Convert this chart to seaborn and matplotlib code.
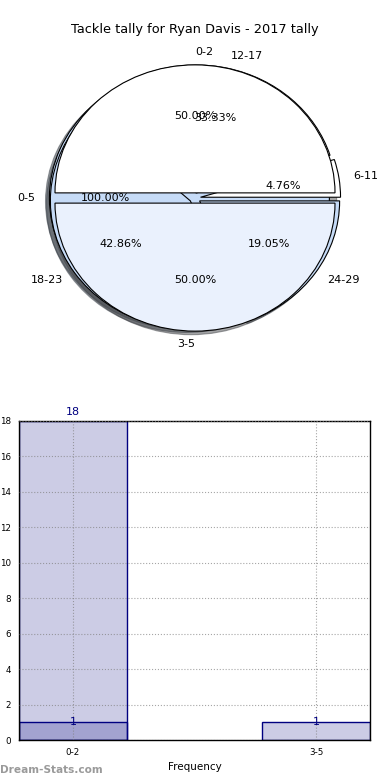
import numpy as np
import pandas as pd
import matplotlib
matplotlib.use('Agg')
import matplotlib.pyplot as plt
import seaborn as sns

# pie data (three pies drawn on top of each other)
ranges_a = ["0-2", "3-5"]
tally_a = [1, 1]
ranges_b = ["0-5"]
tally_b = [1]
ranges_c = ["6-11", "12-17", "18-23", "24-29"]
tally_c = [1, 7, 9, 4]

# bar data
bar_cats = ["0-2", "3-5"]
bar_big = [18]
bar_small = [1, 1]

sns.set_style("white")
plt.rcParams['font.family'] = ['DejaVu Sans']
plt.rcParams['text.color'] = 'black'
plt.rcParams['axes.labelcolor'] = 'black'
plt.rcParams['xtick.color'] = 'black'
plt.rcParams['ytick.color'] = 'black'

fig = plt.figure(figsize=(3.9, 7.8), dpi=100)
fig.text(0.5, 1 - 30 / 780, "Tackle tally for Ryan Davis - 2017 tally",
         ha="center", va="center", fontsize=9.3)

# pie chart
ax1 = fig.add_axes([0, 1 - 355 / 780, 1, 310 / 780])
wp = dict(edgecolor="black", linewidth=0.8)
tp = dict(fontsize=8)
ax1.pie(tally_b, labels=ranges_b, colors=["#c6dbf7"], autopct="%.2f%%",
        explode=[0.04], shadow=True, wedgeprops=wp, textprops=tp)
ax1.pie(tally_c, labels=ranges_c, colors=["white", "white", "#c6dbf7", "#c6dbf7"],
        autopct="%.2f%%", explode=[0.04] * 4, shadow=True, wedgeprops=wp, textprops=tp)
_, lbls, _ = ax1.pie(tally_a, labels=ranges_a, colors=["white", "#eaf1fd"],
                     autopct="%.2f%%", explode=[0.04, 0.04], shadow=True,
                     wedgeprops=wp, textprops=tp)
lbls[0].set_ha("left")
lbls[1].set_ha("right")
ax1.set_aspect("auto")
ax1.set_xlim(-195 / 140, 195 / 140)
ax1.set_ylim(-157 / 128, 153 / 128)
ax1.axis("off")

# bar chart
ax2 = fig.add_axes([19 / 390, 1 - 740 / 780, 351 / 390, 319 / 780])
df_big = pd.DataFrame({"range": bar_cats[:1], "count": bar_big})
df_small = pd.DataFrame({"range": bar_cats, "count": bar_small})
sns.barplot(data=df_big, x="range", y="count", order=bar_cats, ax=ax2,
            color="navy", width=0.444, linewidth=1)
sns.barplot(data=df_small, x="range", y="count", order=bar_cats, ax=ax2,
            color="navy", width=0.444, linewidth=1)
for p in ax2.patches:
    p.set_edgecolor("navy")
    p.set_alpha(None)
    p.set_facecolor((0, 0, 0.5, 0.2))

for i, v in enumerate(bar_big):
    ax2.annotate(str(v), (i, v), xytext=(0, 3), textcoords="offset points",
                 ha="center", va="bottom", color="navy", fontsize=8,
                 annotation_clip=False)
for i, v in enumerate(bar_small):
    ax2.annotate(str(v), (i, v), xytext=(0, 0), textcoords="offset points",
                 ha="center", va="center", color="navy", fontsize=8)

ax2.set_xlim(-0.222, 1.222)
ax2.set_ylim(0, 18)
ax2.set_yticks(range(0, 19, 2))
ax2.tick_params(axis="both", labelsize=6.3, length=2, color="gray")
ax2.grid(True, linestyle=":", color="gray", linewidth=0.8, alpha=0.7)
ax2.set_axisbelow(False)
for s in ax2.spines.values():
    s.set_color("black")
    s.set_linewidth(1)
ax2.set_xlabel("Frequency", fontsize=7.5, labelpad=4)
ax2.set_ylabel("")
fig.text(-0.006, 0.256, "Stat Inter Vals", rotation=90, ha="center", va="center",
         fontsize=7.5)
fig.text(0.0, 1 - 770 / 780, "Dream-Stats.com", ha="left", va="center",
         fontsize=7.6, color="#9a9a9a", fontweight="bold")

fig.savefig("out.png", dpi=100)
